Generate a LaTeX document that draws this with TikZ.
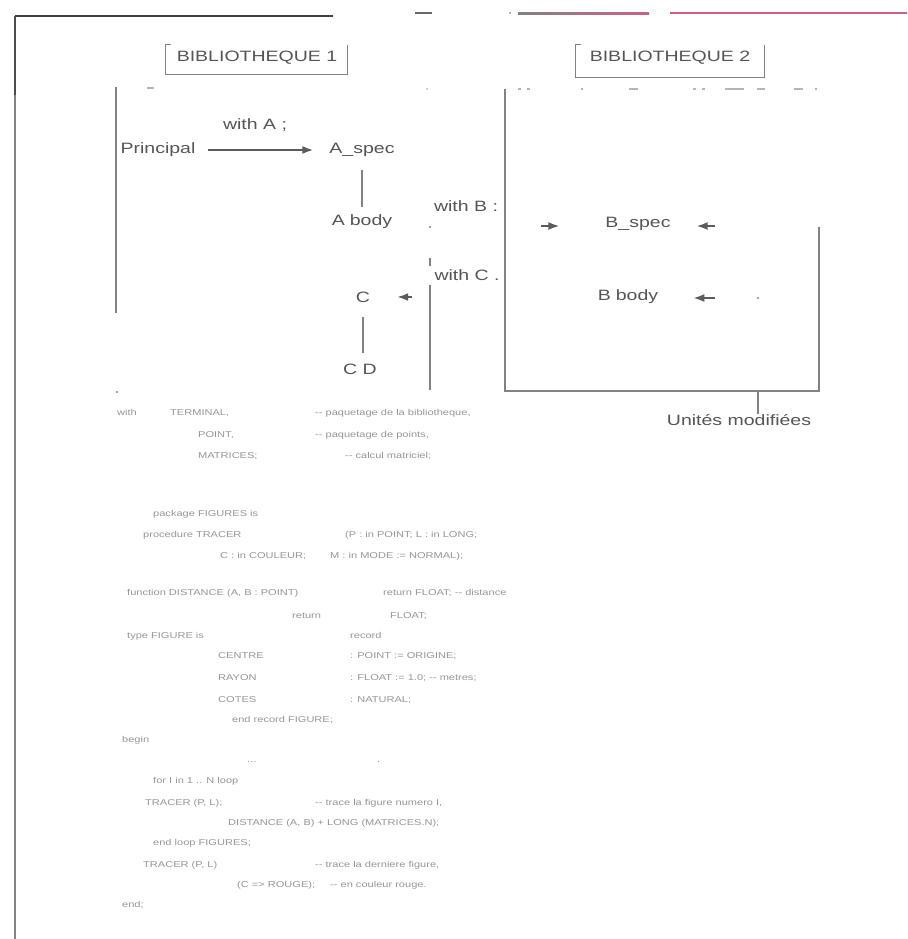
\documentclass[tikz,border=0pt]{standalone}
\usepackage{fontspec}
\usetikzlibrary{arrows.meta}
\newfontfamily\dfont[FakeStretch=1.3]{Liberation Sans}
\newfontfamily\cfont[FakeStretch=1.3]{Liberation Sans}
\definecolor{txt}{RGB}{85,85,85}
\definecolor{ln}{RGB}{130,130,130}
\definecolor{pinkc}{RGB}{205,95,135}
\definecolor{codec}{RGB}{150,150,150}
\tikzset{
  lbl/.style={font=\dfont\fontsize{15}{15}\selectfont, text=txt, inner sep=0pt},
  code/.style={font=\cfont\fontsize{8.5}{8.5}\selectfont, text=codec, inner sep=0pt, anchor=base west},
  conn/.style={draw=ln, line width=1.3pt},
  arr/.style={draw=ln!70!black, line width=1.8pt, -{Latex[length=11pt,width=8pt]}},
  frame/.style={draw=ln, line width=1.3pt},
  dotc/.style={fill=ln, draw=none}
}
\begin{document}
\begin{tikzpicture}[x=1pt,y=-1pt]
\useasboundingbox (0,0) rectangle (907,939);
\fill[white] (0,0) rectangle (907,939);
% outer frame pieces
\draw[black!75, line width=2.6pt] (15,16) -- (333,16);
\draw[black!70, line width=2.8pt] (15,16) -- (15,95);
\draw[ln, line width=1.6pt] (15,95) -- (15,939);
\draw[ln!80!black, line width=1.8pt] (415,13) -- (432,13);
\fill[ln] (510,13) circle (1pt);
\shade[left color=ln, right color=pinkc] (518,12.3) rectangle (649,14.3);
\fill[pinkc] (670,12.3) rectangle (907,14.3);
% titles
\node[lbl] (bib1) at (257,58) {BIBLIOTHEQUE 1};
\node[lbl] (bib2) at (670,58) {BIBLIOTHEQUE 2};
\draw[frame, line width=1pt] (171,45) -- (165,45) -- (165,75) -- (347,75) -- (347,45);
\draw[frame, line width=1pt] (581,45) -- (575,45) -- (575,78) -- (764,78) -- (764,45);
% faint dotted line
\draw[ln!60, line width=1.2pt] (147,88) -- (154,88);
\fill[ln!60] (427,89) circle (1pt);
\foreach \a/\b in {518/521,527/530,581/583,629/638,693/696,702/705,725/744,757/765,794/803,815/817}
  \draw[ln!60, line width=1.2pt] (\a,89) -- (\b,89);
% library 1 left border
\draw[frame] (116,87) -- (116,313);
\fill[ln] (117,392) circle (1.1pt);
% library 2 box (unites modifiees)
\draw[frame] (505,89) -- (505,391) -- (819,391) -- (819,227);
\node[lbl] (unites) at (739,420) {Unités modifiées};
\coordinate (tick) at (758,391);
\draw[frame] (tick) -- (tick |- unites.north);
% nodes
\node[lbl] (principal) at (158,150) {Principal};
\node[lbl] (aspec) at (362,150) {A\_spec};
\node[lbl] (abody) at (362,222) {A\,\,body};
\node[lbl] (c) at (363,297) {C};
\node[lbl] (cd) at (360,369) {C D};
\node[lbl] (bspec) at (638,224) {B\_spec};
\node[lbl] (bbody) at (628,297) {B\,\,body};
\node[lbl] (withA) at (255,125) {with A ;};
\node[lbl] (withB) at (466,206) {with B :};
\node[lbl] (withC) at (467,275) {with C .};
% connectors
\draw[arr, shorten <=12pt, shorten >=16pt] (principal) -- (aspec);
\draw[conn] (aspec.south |- 0,170) -- (aspec.south |- 0,207);
\draw[conn] (c.south |- 0,317) -- (c.south |- 0,353);
\coordinate (cR) at (412,297);
\draw[arr, shorten >=27pt] (cR) -- (c);
\coordinate (bL) at (541,226);
\draw[arr, shorten >=46pt] (bL) -- (bspec.west |- bL);
\coordinate (bR) at (715,226);
\draw[arr, shorten >=26pt] (bR) -- (bspec.east |- bR);
\coordinate (bbR) at (715,298);
\draw[arr, shorten >=35pt] (bbR) -- (bbody.east |- bbR);
% with C line
\draw[frame] (430,258) -- (430,266);
\draw[frame] (430,285) -- (430,390);
\fill[ln] (430,227) circle (1.1pt);
\fill[ln] (758,298) circle (1.1pt);
% code listing (faint)
\node[code] (k1a) at (117,415) {with};
\node[code] (k1b) at (170,415) {TERMINAL,};
\node[code] (k1c) at (315,415) {-- paquetage de la bibliotheque,};
\node[code] (k2a) at (198,437) {POINT,};
\node[code] (k2c) at (315,437) {-- paquetage de points,};
\node[code] (k3a) at (198,458) {MATRICES;};
\node[code] (k3c) at (345,458) {-- calcul matriciel;};
\node[code] (k4a) at (153,516) {package FIGURES is};
\node[code] (k5a) at (143,537) {procedure TRACER};
\node[code] (k5c) at (345,537) {(P : in POINT; L : in LONG;};
\node[code] (k6a) at (220,558) {C : in COULEUR;};
\node[code] (k6c) at (330,558) {M : in MODE := NORMAL);};
\node[code] (k7a) at (127,595) {function DISTANCE (A, B : POINT)};
\node[code] (k7c) at (383,595) {return FLOAT; -- distance};
\node[code] (k8a) at (292,618) {return};
\node[code] (k8c) at (390,618) {FLOAT;};
\node[code] (k9a) at (127,638) {type FIGURE is};
\node[code] (k9c) at (350,638) {record};
\node[code] (k10a) at (218,658) {CENTRE};
\node[code] (k10c) at (350,658) {: POINT := ORIGINE;};
\node[code] (k11a) at (218,680) {RAYON};
\node[code] (k11c) at (350,680) {: FLOAT := 1.0; -- metres;};
\node[code] (k12a) at (218,702) {COTES};
\node[code] (k12c) at (350,702) {: NATURAL;};
\node[code] (k13a) at (232,722) {end record FIGURE;};
\node[code] (k14a) at (122,742) {begin};
\node[code] (k15a) at (247,762) {...};
\node[code] (k15c) at (377,762) {.};
\node[code] (k16a) at (153,783) {for I in 1 .. N loop};
\node[code] (k17a) at (145,805) {TRACER (P, L);};
\node[code] (k17c) at (315,805) {-- trace la figure numero I,};
\node[code] (k18a) at (228,825) {DISTANCE (A, B) + LONG (MATRICES.N);};
\node[code] (k19a) at (153,845) {end loop FIGURES;};
\node[code] (k20a) at (143,867) {TRACER (P, L)};
\node[code] (k20c) at (315,867) {-- trace la derniere figure,};
\node[code] (k21a) at (237,887) {(C => ROUGE);};
\node[code] (k21c) at (330,887) {-- en couleur rouge.};
\node[code] (k22a) at (122,907) {end;};
\end{tikzpicture}
\end{document}
